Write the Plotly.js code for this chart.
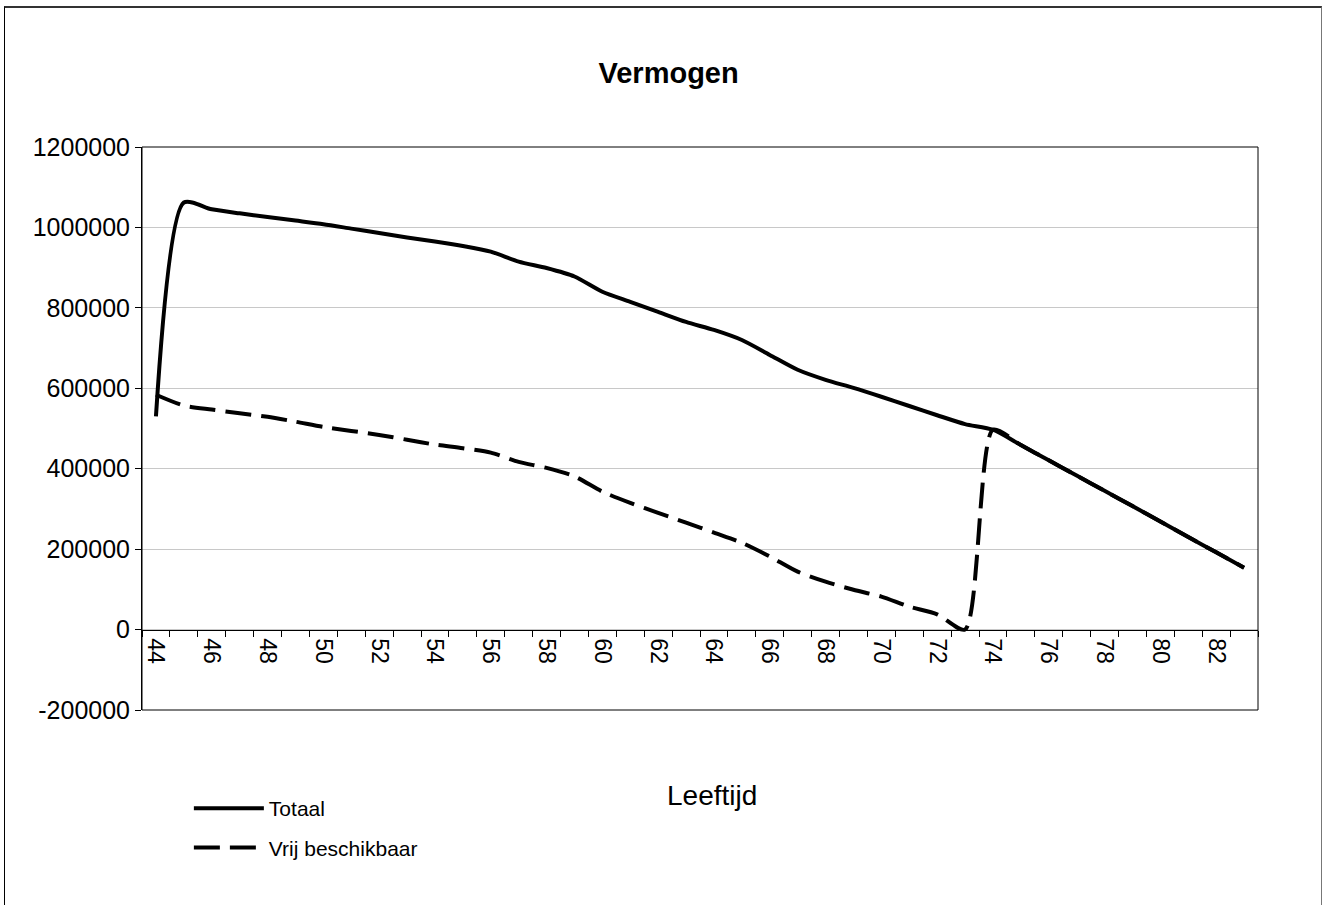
<!DOCTYPE html>
<html>
<head>
<meta charset="utf-8">
<script src="https://cdn.plot.ly/plotly-3.0.1.min.js"></script>
<style>
  html, body { margin: 0; padding: 0; background: #fff; }
  #chart { width: 1324px; height: 905px; }
  #frame { position: absolute; left: 4px; top: 6px; width: 1316px; height: 1000px;
           border-top: 2px solid #333; border-left: 1px solid #000; border-right: 1px solid #777;
           pointer-events: none; }
</style>
</head>
<body>
<div id="chart"></div>
<div id="frame"></div>
<script>
const ages = [44,45,46,47,48,49,50,51,52,53,54,55,56,57,58,59,60,61,62,63,
              64,65,66,67,68,69,70,71,72,73,74,75,76,77,78,79,80,81,82,83];
const totaal = [530000,1062000,1045000,1035000,1026000,1017000,1008000,997000,986000,975000,
                965000,954000,940000,915000,899000,878000,840000,815000,790000,765000,
                745000,720000,683000,646000,621000,601000,579000,556000,533000,511000,
                497000,459000,421000,383000,345000,307000,269000,230000,192000,154000];
const vrijBeschikbaar = [584000,557000,547000,538000,529000,517000,504000,494000,484000,472000,
                460000,451000,440000,417000,402000,381000,343000,315000,290000,266000,
                241000,216000,182000,144000,119000,99000,82000,57000,38000,0,
                497000,459000,421000,383000,345000,307000,269000,230000,192000,154000];
const xTickLabels = [44,46,48,50,52,54,56,58,60,62,64,66,68,70,72,74,76,78,80,82];
const yTickValues = [-200000,0,200000,400000,600000,800000,1000000,1200000];

const font = "Arial, 'Liberation Sans', sans-serif";

const traces = [
  { x: ages, y: totaal, name: 'Totaal', type: 'scatter', mode: 'lines',
    line: { color: '#000', width: 4, shape: 'spline', smoothing: 0.7 },
    legendgroup: 'a', hoverinfo: 'skip' },
  { x: ages, y: vrijBeschikbaar, name: 'Vrij beschikbaar', type: 'scatter', mode: 'lines',
    line: { color: '#000', width: 4, shape: 'spline', smoothing: 0.7, dash: '26px,10px' },
    legendgroup: 'b', hoverinfo: 'skip' }
];

const layout = {
  width: 1324, height: 905,
  margin: { l: 142, r: 66, t: 147, b: 195 },
  paper_bgcolor: '#fff', plot_bgcolor: '#fff',
  font: { family: font, color: '#000' },
  title: { text: '<b>Vermogen</b>', font: { family: font, size: 29, color: '#000' },
           x: 0.505, xref: 'container', y: 1 - 73/905, yref: 'container', yanchor: 'middle' },
  xaxis: {
    range: [43.5, 83.5], anchor: 'free', position: 1/7,
    showline: true, linecolor: '#000', linewidth: 1,
    showgrid: false, zeroline: false,
    ticks: '', tickmode: 'array', tickvals: xTickLabels, ticktext: xTickLabels.map(String),
    tickangle: 90, tickfont: { family: font, size: 23, color: '#000' },
    ticklabelstandoff: 3,
    minor: { ticks: 'outside', tick0: 43.5, dtick: 1, ticklen: 6, tickcolor: '#000', tickwidth: 1, showgrid: false },
    fixedrange: true
  },
  yaxis: {
    range: [-200000, 1200000], tickmode: 'array', tickvals: yTickValues,
    ticktext: yTickValues.map(String),
    showline: true, linecolor: '#000', linewidth: 1,
    showgrid: true, gridcolor: '#c8c8c8', gridwidth: 1, zeroline: false,
    ticks: 'outside', ticklen: 6, tickcolor: '#000',
    tickfont: { family: font, size: 25, color: '#000' },
    fixedrange: true
  },
  shapes: [
    { type: 'rect', xref: 'paper', yref: 'paper', x0: 0, x1: 1, y0: 0, y1: 1,
      line: { color: '#000', width: 1 }, layer: 'above' }
  ],
  annotations: [
    { text: 'Leeftijd', xref: 'paper', yref: 'paper', x: (712-142)/1116, y: (710-795)/563,
      xanchor: 'center', yanchor: 'middle', showarrow: false,
      font: { family: font, size: 28, color: '#000' } }
  ],
  showlegend: true,
  legend: {
    x: 0.042, y: (710-788)/563, xanchor: 'left', yanchor: 'top',
    orientation: 'v', tracegroupgap: 9, itemwidth: 70, bgcolor: 'rgba(0,0,0,0)',
    font: { family: font, size: 21, color: '#000' }
  }
};

Plotly.newPlot('chart', traces, layout, { displayModeBar: false, staticPlot: true });
</script>
</body>
</html>
